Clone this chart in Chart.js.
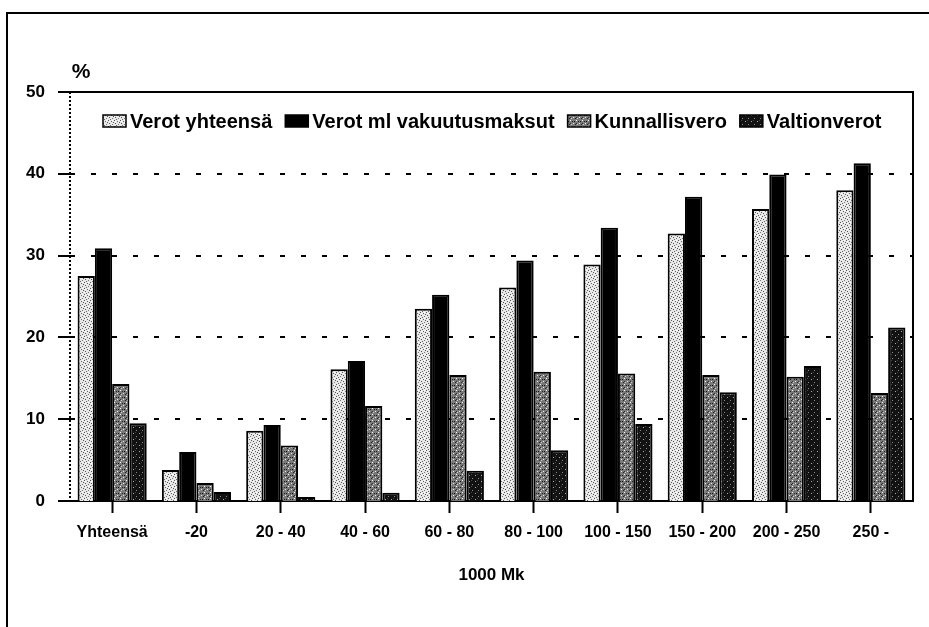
<!DOCTYPE html>
<html>
<head>
<meta charset="utf-8">
<script src="https://cdn.jsdelivr.net/npm/chart.js@4.4.0/dist/chart.umd.min.js"></script>
<style>
    body { margin: 0; background: #fff; }
    #chart { display: block; }
</style>
</head>
<body>
<canvas id="chart" width="929" height="627"></canvas>
<script>
    // data
    const categories = ['Yhteensä', '-20', '20 - 40', '40 - 60', '60 - 80', '80 - 100', '100 - 150', '150 - 200', '200 - 250', '250 -'];
    const seriesNames = ['Verot yhteensä', 'Verot ml vakuutusmaksut', 'Kunnallisvero', 'Valtionverot'];
    const verotYhteensa = [27.5, 3.8, 8.6, 16.1, 23.5, 26.1, 28.9, 32.7, 35.7, 38.0];
    const verotMl = [30.9, 6.0, 9.3, 17.1, 25.2, 29.4, 33.4, 37.2, 39.9, 41.3];
    const kunnallisvero = [14.3, 2.2, 6.8, 11.6, 15.4, 15.8, 15.6, 15.4, 15.2, 13.2];
    const valtionverot = [9.5, 1.1, 0.5, 1.0, 3.7, 6.2, 9.4, 13.3, 16.5, 21.2];
    const yTicks = [0, 10, 20, 30, 40, 50];
    const yUnit = '%';
    const xTitle = '1000 Mk';

    const font = "'Liberation Sans', Arial, sans-serif";

    // speckled fills like the printed original
    function makePattern(bg, spots) {
        const c = document.createElement('canvas');
        c.width = 6;
        c.height = 6;
        const g = c.getContext('2d');
        g.fillStyle = bg;
        g.fillRect(0, 0, 6, 6);
        spots.forEach(function (s) {
            g.fillStyle = s[2];
            g.fillRect(s[0], s[1], 1, 1);
        });
        return g.createPattern(c, 'repeat');
    }
    const lightFill = makePattern('#e8e8e8', [[0, 0, '#555'], [3, 1, '#666'], [1, 3, '#555'], [4, 4, '#777'], [2, 5, '#666'], [5, 2, '#555'], [4, 0, '#fff'], [1, 1, '#fff']]);
    const midFill = makePattern('#7a7a7a', [[0, 0, '#fff'], [3, 3, '#eee'], [2, 1, '#222'], [5, 4, '#222'], [1, 4, '#ccc'], [4, 1, '#111'], [0, 3, '#333']]);
    const darkFill = makePattern('#121212', [[1, 1, '#aaa'], [4, 4, '#888'], [3, 0, '#444']]);

    const ctx = document.getElementById('chart');

    // frame, dotted y axis, unit label and legend
    const decor = {
        id: 'decor',
        afterDraw: function (chart) {
            const c = chart.ctx;
            const a = chart.chartArea;
            c.save();
            c.strokeStyle = '#000';
            c.lineWidth = 2;
            c.beginPath();
            c.moveTo(7, 627);
            c.lineTo(7, 13);
            c.lineTo(929, 13);
            c.stroke();

            c.beginPath();
            c.moveTo(a.left, a.top);
            c.lineTo(a.right, a.top);
            c.lineTo(a.right, a.bottom);
            c.stroke();

            c.setLineDash([2, 2]);
            c.beginPath();
            c.moveTo(a.left, a.top);
            c.lineTo(a.left, a.bottom);
            c.stroke();
            c.setLineDash([]);

            c.fillStyle = '#000';
            c.font = 'bold 21px ' + font;
            c.textAlign = 'center';
            c.textBaseline = 'middle';
            c.fillText(yUnit, 81, 72);

            // legend
            c.font = 'bold 20px ' + font;
            c.textAlign = 'left';
            let x = 103;
            const y = 121;
            chart.data.datasets.forEach(function (ds) {
                c.fillStyle = ds.backgroundColor;
                c.fillRect(x, y - 6, 23, 12);
                c.lineWidth = 1.5;
                c.strokeRect(x, y - 6, 23, 12);
                c.fillStyle = '#000';
                c.fillText(ds.label, x + 27, y + 1);
                x += 27 + c.measureText(ds.label).width + 13;
            });
            c.restore();
        }
    };

    const fills = [lightFill, '#000', midFill, darkFill];
    const values = [verotYhteensa, verotMl, kunnallisvero, valtionverot];

    const myChart = new Chart(ctx, {
        type: 'bar',
        data: {
            labels: categories,
            datasets: seriesNames.map(function (name, i) {
                return {
                    label: name,
                    data: values[i],
                    backgroundColor: fills[i],
                    borderColor: '#000',
                    borderWidth: 2,
                    categoryPercentage: 0.82,
                    barPercentage: 1.0
                };
            })
        },
        options: {
            responsive: false,
            animation: false,
            layout: {
                padding: { left: 0, top: 92, right: 16, bottom: 0 }
            },
            plugins: {
                legend: { display: false },
                tooltip: { enabled: false }
            },
            scales: {
                x: {
                    afterFit: function (s) { s.height = 126; },
                    border: { display: true, color: '#000', width: 2 },
                    grid: {
                        offset: false,
                        drawOnChartArea: false,
                        tickLength: 12,
                        tickColor: '#000',
                        tickWidth: 2
                    },
                    ticks: {
                        color: '#000',
                        padding: 10,
                        maxRotation: 0,
                        font: { family: font, size: 16, weight: 'bold' }
                    },
                    title: {
                        display: true,
                        text: xTitle,
                        color: '#000',
                        padding: { top: 0, bottom: 41 },
                        font: { family: font, size: 17, weight: 'bold' }
                    }
                },
                y: {
                    min: 0,
                    max: 50,
                    afterFit: function (s) { s.width = 70; },
                    afterBuildTicks: function (s) {
                        s.ticks = yTicks.map(function (v) { return { value: v }; });
                    },
                    border: { display: false, dash: [5, 16] },
                    grid: {
                        color: '#000',
                        lineWidth: function (c) {
                            return (c.tick && (c.tick.value === 0 || c.tick.value === 50)) ? 0 : 2;
                        },
                        tickLength: 12,
                        tickColor: '#000',
                        tickWidth: 2,
                        tickBorderDash: []
                    },
                    ticks: {
                        color: '#000',
                        padding: 13,
                        font: { family: font, size: 17, weight: 'bold' }
                    }
                }
            }
        },
        plugins: [decor]
    });
</script>
</body>
</html>
